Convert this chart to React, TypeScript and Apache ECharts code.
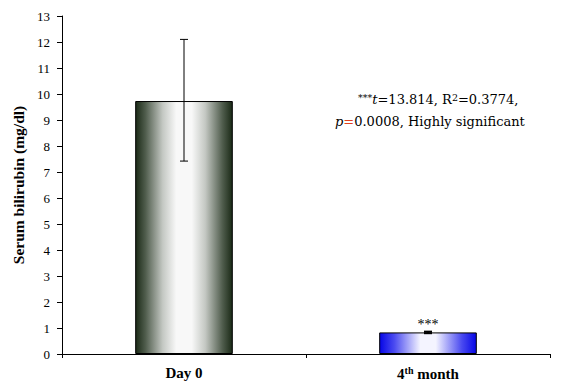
import React, { useEffect, useRef } from "react";
import * as echarts from "echarts";

const categories = ["Day 0", "4th month"];
const means = [9.73, 0.83];
const errLow = [7.42, 0.8];
const errHigh = [12.1, 0.86];
const yTicks = { min: 0, max: 13, interval: 1 };
const yAxisName = "Serum bilirubin (mg/dl)";
const significanceMark = "***";
const statLine1 = ["***", "t", "=13.814, R", "2", "=0.3774,"];
const statLine2 = ["p", "=", "0.0008, Highly significant"];

const SERIF = "'Liberation Serif', 'Times New Roman', serif";
const WIDE = "'DejaVu Serif', serif";

export default function App() {
  const ref = useRef<HTMLDivElement>(null);
  useEffect(() => {
    const chart = echarts.init(ref.current!, null, { renderer: "svg" });
    const gradients = [
      new echarts.graphic.LinearGradient(0, 0, 1, 0, [
        { offset: 0, color: "#1b2a17" },
        { offset: 0.1, color: "#4f5c4c" },
        { offset: 0.28, color: "#c4c8c3" },
        { offset: 0.42, color: "#f8f8f8" },
        { offset: 0.58, color: "#f8f8f8" },
        { offset: 0.72, color: "#c4c8c3" },
        { offset: 0.9, color: "#4f5c4c" },
        { offset: 1, color: "#1b2a17" },
      ]),
      new echarts.graphic.LinearGradient(0, 0, 1, 0, [
        { offset: 0, color: "#0606e6" },
        { offset: 0.15, color: "#4a4af0" },
        { offset: 0.42, color: "#f4f4ff" },
        { offset: 0.58, color: "#f4f4ff" },
        { offset: 0.85, color: "#4a4af0" },
        { offset: 1, color: "#0606e6" },
      ]),
    ];
    const barData = means.map((v, i) => ({
      value: v,
      itemStyle: { color: gradients[i], borderColor: "#000", borderWidth: 1 },
      label:
        i === 1
          ? {
              show: true,
              position: "top",
              distance: 1,
              formatter: significanceMark,
              fontFamily: SERIF,
              fontSize: 14,
              color: "#000",
            }
          : { show: false },
    }));
    const errData = categories.map((_, i) => [i, errLow[i], errHigh[i]]);
    const option: any = {
      animation: false,
      backgroundColor: "#fff",
      grid: { left: 62, right: 12, top: 16, bottom: 32, containLabel: false },
      xAxis: {
        type: "category",
        data: categories,
        boundaryGap: true,
        axisLine: { lineStyle: { color: "#000", width: 1 } },
        axisTick: { show: true, length: 4, lineStyle: { color: "#000" } },
        axisLabel: {
          margin: 11,
          color: "#000",
          fontFamily: SERIF,
          fontSize: 15,
          fontWeight: "bold",
          formatter: (v: string) => {
            const m = v.match(/^(\d+)(th)(.*)$/);
            if (m) return `{b|${m[1]}}{s|${m[2]}}{b|${m[3]}}`;
            return `{b|${v}}`;
          },
          rich: {
            b: { fontFamily: SERIF, fontSize: 15, fontWeight: "bold", color: "#000" },
            s: { fontFamily: SERIF, fontSize: 10, fontWeight: "bold", color: "#000", verticalAlign: "top", padding: [0, 0, 7, 0] },
          },
        },
        splitLine: { show: false },
      },
      yAxis: {
        type: "value",
        min: yTicks.min,
        max: yTicks.max,
        interval: yTicks.interval,
        name: yAxisName,
        nameLocation: "middle",
        nameGap: 31,
        nameTextStyle: { fontFamily: SERIF, fontSize: 15.5, fontWeight: "bold", color: "#000" },
        axisLine: { show: true, lineStyle: { color: "#000", width: 1 } },
        axisTick: { show: true, length: 5, lineStyle: { color: "#000" } },
        axisLabel: { margin: 12, color: "#000", fontFamily: SERIF, fontSize: 13 },
        splitLine: { show: false },
      },
      series: [
        {
          type: "bar",
          data: barData,
          barWidth: "40%",
        },
        {
          type: "custom",
          data: errData,
          z: 10,
          renderItem: (params: any, api: any) => {
            const x = api.value(0);
            const lo = api.coord([x, api.value(1)]);
            const hi = api.coord([x, api.value(2)]);
            const cap = 4;
            const style = { stroke: "#000", lineWidth: params.dataIndex === 1 ? 2 : 1 };
            return {
              type: "group",
              children: [
                { type: "line", shape: { x1: lo[0], y1: lo[1], x2: hi[0], y2: hi[1] }, style },
                { type: "line", shape: { x1: hi[0] - cap, y1: hi[1], x2: hi[0] + cap, y2: hi[1] }, style },
                { type: "line", shape: { x1: lo[0] - cap, y1: lo[1], x2: lo[0] + cap, y2: lo[1] }, style },
              ],
            };
          },
        },
      ],
      graphic: [
        {
          type: "text",
          left: 358,
          top: 92,
          style: {
            text: `{st|${statLine1[0]}}{it|${statLine1[1]}}{n|${statLine1[2]}}{sup|${statLine1[3]}}{n|${statLine1[4]}}`,
            rich: {
              st: { fontFamily: WIDE, fontSize: 9.5, fill: "#000", verticalAlign: "top", padding: [0, 0, 4, 0] },
              it: { fontFamily: WIDE, fontSize: 13, fontStyle: "italic", fill: "#000" },
              n: { fontFamily: WIDE, fontSize: 13, fill: "#000" },
              sup: { fontFamily: WIDE, fontSize: 9.5, fill: "#000", verticalAlign: "top", padding: [0, 0, 5, 0] },
            },
          },
        },
        {
          type: "text",
          left: 335,
          top: 115,
          style: {
            text: `{it|${statLine2[0]}}{r|${statLine2[1]}}{n|${statLine2[2]}}`,
            rich: {
              it: { fontFamily: WIDE, fontSize: 13, fontStyle: "italic", fill: "#000" },
              r: { fontFamily: WIDE, fontSize: 13, fill: "#e0401c" },
              n: { fontFamily: WIDE, fontSize: 13, fill: "#000" },
            },
          },
        },
      ],
    };
    chart.setOption(option);
    return () => chart.dispose();
  }, []);
  return <div ref={ref} style={{ width: 562, height: 386, position: "absolute", left: 0, top: 0 }} />;
}
